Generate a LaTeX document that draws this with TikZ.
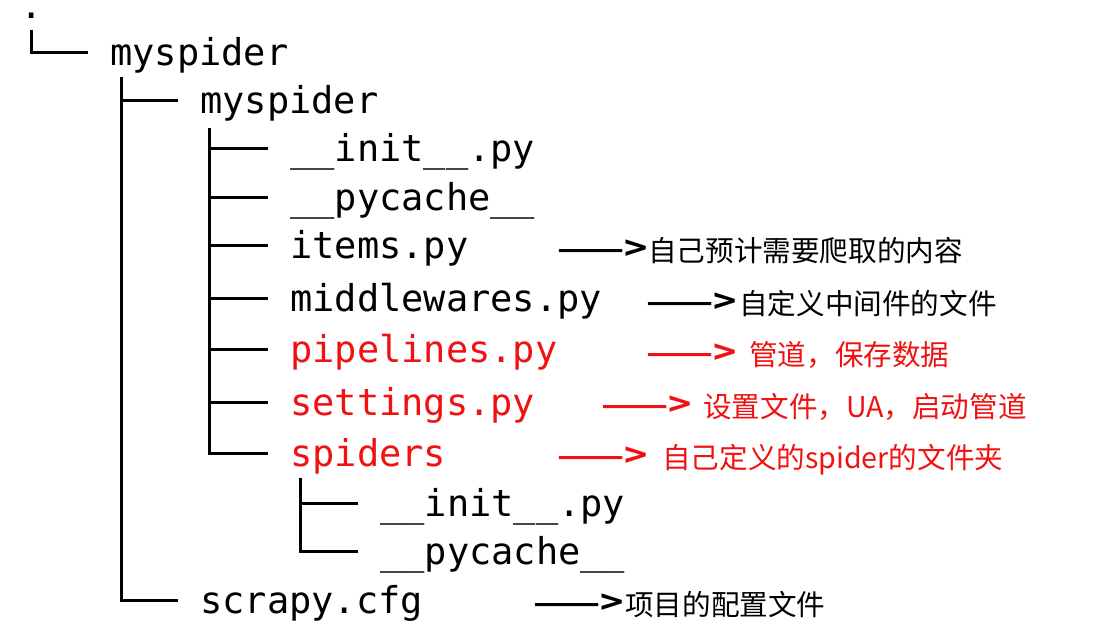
\documentclass[tikz,border=0pt]{standalone}
\usepackage{fontspec}
\setmonofont{DejaVu Sans Mono}
\newfontfamily\cjk{Noto Sans CJK SC}[BoldFont={Noto Sans CJK SC Bold}]
\definecolor{myred}{RGB}{240,18,18}
\tikzset{
  tree/.style={line width=3pt, black},
  fname/.style={inner sep=0pt, anchor=base west, font=\ttfamily\fontsize{37}{40}\selectfont},
  note/.style={inner sep=0pt, anchor=base west, font=\cjk\fontsize{28.6}{32}\selectfont},
  hot/.style={text=myred},
}
\newcommand{\arrtxt}{\scalebox{1.38}[1.15]{\bfseries ——>}}
\begin{document}
\begin{tikzpicture}[x=1pt,y=-1pt]
\useasboundingbox[fill=white] (0,0) rectangle (1109,629);
% file names
\node[fname, text height=4pt] (root) at (20.5,18) {.};
\node[fname] (a) at (110,65) {myspider};
\node[fname] (b) at (200,113) {myspider};
\node[fname] (c) at (290,161) {\_\_init\_\_.py};
\node[fname] (d) at (290,210) {\_\_pycache\_\_};
\node[fname] (e) at (290,258) {items.py};
\node[fname] (f) at (290,311) {middlewares.py};
\node[fname,hot] (g) at (290,362) {pipelines.py};
\node[fname,hot] (h) at (290,415) {settings.py};
\node[fname,hot] (i) at (290,466) {spiders};
\node[fname] (j) at (380,516) {\_\_init\_\_.py};
\node[fname] (k) at (380,564) {\_\_pycache\_\_};
\node[fname] (l) at (200,613) {scrapy.cfg};
% branch end points
\foreach \n in {a,b,c,d,e,f,g,h,i,j,k,l}
  \coordinate (\n L) at ([xshift=-22pt,yshift=13pt]\n.base west);
\coordinate (rootT) at ([xshift=11pt,yshift=-12pt]root.base west);
\coordinate (aT) at ([xshift=11pt,yshift=-12pt]a.base west);
\coordinate (bT) at ([xshift=9pt,yshift=-15pt]b.base west);
\coordinate (iT) at ([xshift=10pt,yshift=-12pt]i.base west);
% tree lines
\draw[tree] (rootT) |- (aL);
\draw[tree] (aT) |- (lL);
\draw[tree] (aT |- bL) -- (bL);
\draw[tree] (bT) |- (iL);
\foreach \n in {c,d,e,f,g,h}
  \draw[tree] (bT |- \n L) -- (\n L);
\draw[tree] (iT) |- (kL);
\draw[tree] (iT |- jL) -- (jL);
% annotations
\node[note] (ea) at (557,260) {\arrtxt};
\node[note] (en) at (648,261) {自己预计需要爬取的内容};
\node[note] (fa) at (646,313) {\arrtxt};
\node[note] (fn) at (739,314) {自定义中间件的文件};
\node[note,hot] (ga) at (646,364) {\arrtxt};
\node[note,hot] (gn) at (749,365) {管道，保存数据};
\node[note,hot] (ha) at (601,416) {\arrtxt};
\node[note,hot] (hn) at (703,417) {设置文件，UA，启动管道};
\node[note,hot] (ia) at (557,467) {\arrtxt};
\node[note,hot] (in) at (662,468) {自己定义的spider的文件夹};
\node[note] (la) at (533,614) {\arrtxt};
\node[note] (ln) at (625,615) {项目的配置文件};
\end{tikzpicture}
\end{document}
